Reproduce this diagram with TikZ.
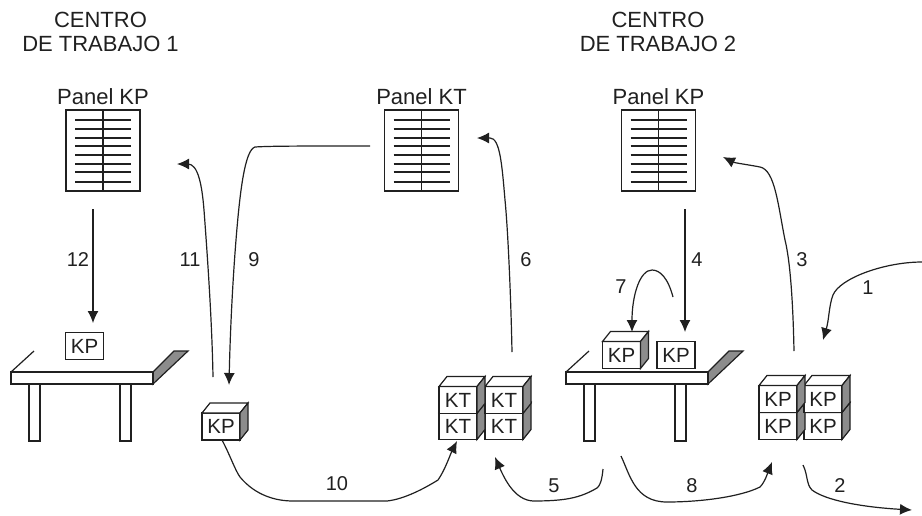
\documentclass[tikz,border=0pt]{standalone}
\usepackage{fontspec}
\setmainfont{Liberation Sans}
\usepackage{xcolor}
\usetikzlibrary{arrows.meta,calc,positioning}
\definecolor{inkgray}{RGB}{32, 32, 32}
\definecolor{sidegray}{RGB}{140, 140, 140}

\newcommand{\boxcube}[3]{%
  \node[boxface] (#1) at (#2) {#3};
  \draw[thing, fill=white] (#1.north west) -- ++(8,-10) -- ($(#1.north east)+(8,-10)$) -- (#1.north east) -- cycle;
  \draw[thing, fill=sidegray] (#1.north east) -- ++(8,-10) -- ($(#1.south east)+(8,-10)$) -- (#1.south east) -- cycle;
}
\newcommand{\kanbanpanel}[3]{%
  \node[panelbody] (#1) at (#2) {};
  \node[labeltext, above=4pt of #1] (#1title) {#3};
  \draw[thing] (#1.north) -- (#1.south);
  \foreach \rowy in {10,19,28,36,45,54,62,72}
    \draw[thing] ($(#1.north west)+(9,\rowy)$) -- ($(#1.north east)+(-9,\rowy)$);
}
\newcommand{\worktable}[2]{%
  \coordinate (#1) at (#2);
  \draw[thing, fill=sidegray] ($(#1)+(142,0)$) -- ++(21,-21) -- ++(14,0) -- ($(#1)+(142,12)$) -- cycle;
  \draw[thing] (#1) -- ++(23,-21);
  \draw[thing, fill=white] (#1) rectangle ++(142,12);
  \draw[thing, fill=white] ($(#1)+(18,12)$) rectangle ++(11,57);
  \draw[thing, fill=white] ($(#1)+(109,12)$) rectangle ++(11,57);
}

\begin{document}
\begin{tikzpicture}[x=1pt, y=-1pt, >={Latex[length=12pt,width=11pt]},
    thing/.style={draw=inkgray, line width=1.2pt},
    flow/.style={draw=inkgray, line width=1.2pt, ->},
    labeltext/.style={font=\fontsize{22}{24}\selectfont, text=inkgray, inner sep=1pt},
    steptext/.style={font=\fontsize{20}{22}\selectfont, text=inkgray, inner sep=1pt},
    boxface/.style={thing, fill=white, minimum width=38pt, minimum height=27pt, inner sep=0pt, outer sep=0pt,
      font=\fontsize{20.5}{22}\selectfont, text=inkgray},
    panelbody/.style={thing, fill=white, minimum width=74pt, minimum height=81pt, inner sep=0pt, outer sep=0pt}]
    \useasboundingbox (0,0) rectangle (922,515);

    % Work centre headings
    \node[labeltext, align=center] (centreone) at (100.5,32) {CENTRO\\DE TRABAJO 1};
    \node[labeltext, align=center] (centretwo) at (658,32) {CENTRO\\DE TRABAJO 2};

    % Panels
    \kanbanpanel{panela}{103,150.5}{Panel KP}
    \kanbanpanel{panelb}{421.5,150.5}{Panel KT}
    \kanbanpanel{panelc}{658.5,150.5}{Panel KP}

    % Tables
    \worktable{tablea}{11,372}
    \worktable{tableb}{566,372}

    % Boxes at centre 1
    \node[boxface] (flata) at (84.5,346) {KP};
    \boxcube{cubea}{221,426.5}{KP}

    % Stack of KT
    \boxcube{ktd}{504,426}{KT}
    \boxcube{ktc}{458,426}{KT}
    \boxcube{ktb}{504,400}{KT}
    \boxcube{kta}{458,400}{KT}

    % Boxes on the second table
    \boxcube{cubeb}{621.5,355}{KP}
    \node[boxface] (flatb) at (676,355) {KP};

    % Stack of KP
    \boxcube{kpd}{823,426}{KP}
    \boxcube{kpc}{778,426}{KP}
    \boxcube{kpb}{823,399}{KP}
    \boxcube{kpa}{778,399}{KP}

    % Free ends of the flows
    \coordinate (oneS) at (922,262);    \coordinate (oneE) at (823,340);
    \coordinate (twoS) at (803,465);    \coordinate (twoE) at (912,510);
    \coordinate (threeS) at (794,351);  \coordinate (threeE) at (723,157);
    \coordinate (fourS) at (685,209);   \coordinate (fourE) at (685,332);
    \coordinate (fiveS) at (603,469);   \coordinate (fiveE) at (495,457);
    \coordinate (sixS) at (512,352);    \coordinate (sixE) at (477,138);
    \coordinate (sevenS) at (673,297);  \coordinate (sevenE) at (632,332);
    \coordinate (eightS) at (621,456);  \coordinate (eightE) at (772,462);
    \coordinate (nineS) at (370,146);   \coordinate (nineE) at (229,385);
    \coordinate (tenE) at (457,441);
    \coordinate (elevenS) at (213,377); \coordinate (elevenE) at (177,164);
    \coordinate (twelveS) at (93,209);  \coordinate (twelveE) at (93,323);

    % Flows
    \draw[flow] (oneS) .. controls (885,262) and (840,278) .. (833,295) .. controls (829,305) and (829,320) .. (oneE);
    \draw[flow] (twoS) .. controls (808,475) and (806,484) .. (812,490) .. controls (825,500) and (860,507) .. (twoE);
    \draw[flow] (threeS) .. controls (793,300) and (790,260) .. (785,240) .. controls (778,205) and (775,170) .. (760,167) .. controls (750,165) and (735,163) .. (threeE);
    \draw[flow] (fourS) -- (fourE);
    \draw[flow] (fiveS) .. controls (602,480) and (600,486) .. (597,488) .. controls (580,498) and (565,501) .. (533,501) .. controls (515,500) and (505,480) .. (fiveE);
    \draw[flow] (sixS) .. controls (511,300) and (508,230) .. (505,200) .. controls (502,165) and (500,138) .. (490,138) -- (sixE);
    \draw[flow] (sevenS) .. controls (668,278) and (660,270) .. (652,270) .. controls (640,270) and (632,295) .. (sevenE);
    \draw[flow] (eightS) .. controls (630,475) and (635,502) .. (667,502) .. controls (700,502) and (740,497) .. (760,487) .. controls (765,482) and (768,472) .. (eightE);
    \draw[flow] (nineS) .. controls (300,146) and (270,146) .. (255,147) .. controls (245,150) and (240,190) .. (236,240) .. controls (232,290) and (230,340) .. (nineE);
    \draw[flow] ($(cubea.south)+(1,0)$) .. controls (230,455) and (235,470) .. (240,477) .. controls (255,495) and (275,501) .. (293,501) -- (387,501) .. controls (405,499) and (425,488) .. (438,480) .. controls (445,470) and (450,455) .. (tenE);
    \draw[flow] (elevenS) .. controls (212,320) and (207,250) .. (204,210) .. controls (202,185) and (198,164) .. (188,164) -- (elevenE);
    \draw[flow] (twelveS) -- (twelveE);

    % Step numbers
    \node[steptext] (stepone) at (868,288) {1};
    \node[steptext] (steptwo) at (840,486) {2};
    \node[steptext] (stepthree) at (802,260) {3};
    \node[steptext] (stepfour) at (697,260) {4};
    \node[steptext] (stepfive) at (554,486) {5};
    \node[steptext] (stepsix) at (526,260) {6};
    \node[steptext] (stepseven) at (621,287) {7};
    \node[steptext] (stepeight) at (692,486) {8};
    \node[steptext] (stepnine) at (254,260) {9};
    \node[steptext] (stepten) at (337,484) {10};
    \node[steptext] (stepeleven) at (190,260) {11};
    \node[steptext] (steptwelve) at (78,260) {12};
\end{tikzpicture}
\end{document}
